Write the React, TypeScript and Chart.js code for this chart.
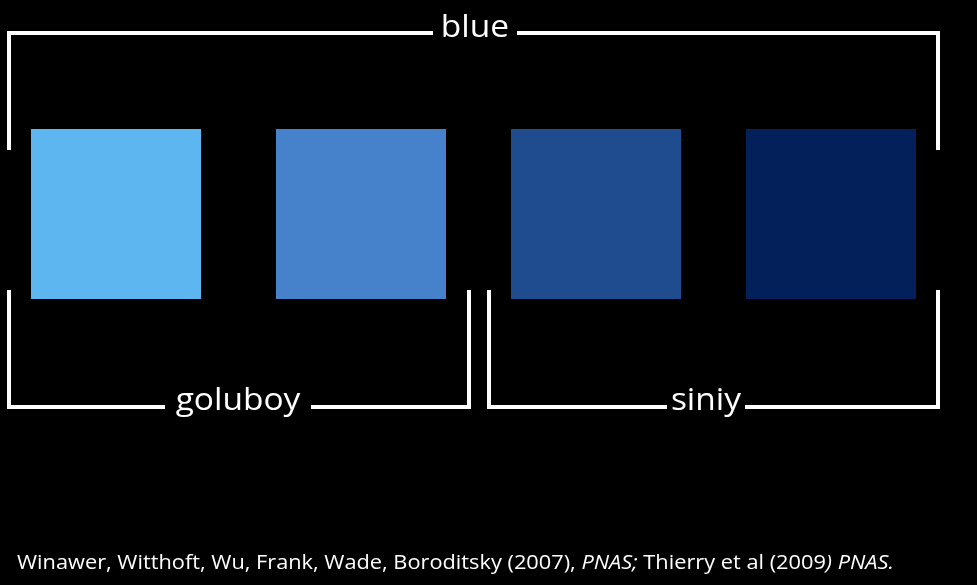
import { useEffect, useRef } from 'react'
import { Chart, registerables } from 'chart.js'

Chart.register(...registerables)

// squares: colour and left/right edge in x units, shared top/bottom
const squareColors = ['#5db6ef', '#4682cb', '#1f4b8f', '#03205a']
const squareLeft = [31, 276, 511, 746]
const squareRight = [201, 446, 681, 916]
const squareTop = 129
const squareBottom = 299

// bracket polylines (NaN = gap for label)
const topBracket = [
  { x: 9, y: 150 }, { x: 9, y: 33 }, { x: 433, y: 33 }, { x: NaN, y: NaN },
  { x: 517, y: 33 }, { x: 938, y: 33 }, { x: 938, y: 150 },
]
const leftBracket = [
  { x: 9, y: 290 }, { x: 9, y: 407 }, { x: 165, y: 407 }, { x: NaN, y: NaN },
  { x: 311, y: 407 }, { x: 469, y: 407 }, { x: 469, y: 290 },
]
const rightBracket = [
  { x: 489, y: 290 }, { x: 489, y: 407 }, { x: 667, y: 407 }, { x: NaN, y: NaN },
  { x: 745, y: 407 }, { x: 938, y: 407 }, { x: 938, y: 290 },
]
const labels = ['blue', 'goluboy', 'siniy']
const labelX = [475, 238, 706]
const labelY = [28, 401, 401]

const footerParts: [string, boolean][] = [
  ['Winawer, Witthoft, Wu, Frank, Wade, Boroditsky (2007), ', false],
  ['PNAS;', true],
  [' Thierry et al (2009', false],
  [') PNAS.', true],
]

const squaresPlugin = {
  id: 'squares',
  beforeDatasetsDraw(chart: Chart) {
    const { ctx, scales } = chart
    const x = scales.x
    const y = scales.y
    ctx.save()
    squareColors.forEach((c, i) => {
      const x0 = x.getPixelForValue(squareLeft[i])
      const x1 = x.getPixelForValue(squareRight[i])
      const y0 = y.getPixelForValue(squareTop)
      const y1 = y.getPixelForValue(squareBottom)
      ctx.fillStyle = c
      ctx.fillRect(x0, y0, x1 - x0, y1 - y0)
    })
    ctx.fillStyle = '#fff'
    ctx.textAlign = 'center'
    ctx.textBaseline = 'middle'
    ctx.font = '31px "Open Sans", sans-serif'
    labels.forEach((t, i) => {
      ctx.save()
      ctx.translate(x.getPixelForValue(labelX[i]), y.getPixelForValue(labelY[i]))
      ctx.scale(1.08, 1)
      ctx.fillText(t, 0, 0)
      ctx.restore()
    })
    // footer citation, stretched to the reference width
    ctx.textAlign = 'left'
    const fontFor = (it: boolean) => `${it ? 'italic ' : ''}20px "Open Sans", sans-serif`
    let total = 0
    footerParts.forEach(([t, it]) => {
      ctx.font = fontFor(it)
      total += ctx.measureText(t).width
    })
    const sx = 877 / total
    ctx.translate(17, 563)
    ctx.scale(sx, 1)
    let px = 0
    footerParts.forEach(([t, it]) => {
      ctx.font = fontFor(it)
      ctx.fillText(t, px, 0)
      px += ctx.measureText(t).width
    })
    ctx.restore()
  },
}

const bgPlugin = {
  id: 'bg',
  beforeDraw(chart: Chart) {
    const { ctx, width, height } = chart
    ctx.save()
    ctx.fillStyle = '#000'
    ctx.fillRect(0, 0, width, height)
    ctx.restore()
  },
}

export default function App() {
  const chartRef = useRef<HTMLCanvasElement>(null)
  const chartInstance = useRef<Chart | null>(null)

  useEffect(() => {
    document.body.style.margin = '0'
    document.body.style.background = '#000'
    if (!chartRef.current) return
    if (chartInstance.current) chartInstance.current.destroy()
    const ds = (data: { x: number; y: number }[]) => ({
      data,
      showLine: true,
      spanGaps: false,
      borderColor: '#fff',
      borderWidth: 4,
      pointRadius: 0,
      borderJoinStyle: 'miter' as const,
    })
    chartInstance.current = new Chart(chartRef.current, {
      type: 'scatter',
      data: { datasets: [ds(topBracket), ds(leftBracket), ds(rightBracket)] },
      options: {
        animation: false,
        responsive: false,
        layout: { padding: 0 },
        plugins: { legend: { display: false }, tooltip: { enabled: false } },
        scales: {
          x: { type: 'linear', min: 0, max: 977, display: false },
          y: { type: 'linear', min: 0, max: 585, reverse: true, display: false },
        },
      },
      plugins: [bgPlugin, squaresPlugin],
    })
    return () => {
      if (chartInstance.current) chartInstance.current.destroy()
      chartInstance.current = null
    }
  }, [])

  return (
    <div style={{ width: 977, height: 585 }}>
      <canvas ref={chartRef} width={977} height={585} />
    </div>
  )
}
